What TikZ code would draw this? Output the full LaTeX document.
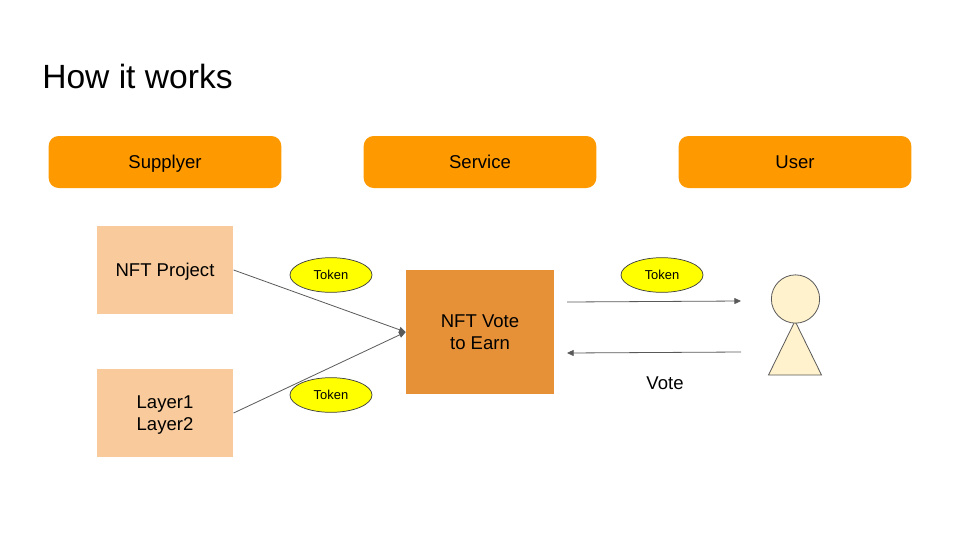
\documentclass[tikz,border=0pt]{standalone}
\usepackage{fontspec}
\setmainfont{Liberation Sans}
\usetikzlibrary{arrows.meta,shapes.geometric}
\definecolor{headorange}{HTML}{FF9900}
\definecolor{sourcefill}{HTML}{F9CB9C}
\definecolor{corefill}{HTML}{E69138}
\definecolor{personfill}{HTML}{FFF2CC}
\definecolor{wire}{HTML}{595959}
\definecolor{tokenfill}{HTML}{FFFF00}
\tikzset{
  header/.style={fill=headorange,rounded corners=7.5pt,minimum width=174.5pt,minimum height=39pt,inner sep=0pt,text height=9.9pt,text depth=0pt,font=\fontsize{13.9}{16}\selectfont},
  source/.style={fill=sourcefill,minimum width=102.5pt,minimum height=65.5pt,inner sep=0pt,align=center,text depth=0pt,font=\fontsize{13.9}{16.5}\selectfont},
  core/.style={fill=corefill,minimum width=111pt,minimum height=92.5pt,inner sep=0pt,align=center,font=\fontsize{13.9}{16.5}\selectfont},
  token/.style={ellipse,draw=black!75,line width=0.55pt,fill=tokenfill,minimum width=61.5pt,minimum height=26pt,inner sep=0pt,font=\fontsize{9.7}{11}\selectfont},
  flow/.style={draw=wire,line width=0.6pt,-{Triangle[length=5pt,width=4.5pt]}},
  figure/.style={draw=wire,line width=0.6pt,fill=personfill}
}
\begin{document}
\begin{tikzpicture}[x=0.75pt,y=-0.75pt]
  \useasboundingbox (0,0) rectangle (960,540);

  % Title
  \node[anchor=base west,inner sep=0pt,font=\fontsize{25.2}{30}\selectfont] (title) at (42,88) {How it works};

  % Column headers
  \node[header] (supplyer) at (165,162) {Supplyer};
  \node[header] (service) at (480,162) {Service};
  \node[header] (user) at (795,162) {User};

  % Sources and the central service
  \node[source,text height=9.9pt] (project) at (165,270) {NFT Project};
  \node[source] (layers) at (165,413) {Layer1\\Layer2};
  \node[core] (vote) at (480,332) {NFT Vote\\to Earn};

  % Connectors into the service
  \draw[flow] (layers.east) -- (vote.west);
  \draw[flow] (project.east) -- (vote.west);

  % Token badges
  \node[token] (tokena) at (331,275) {Token};
  \node[token] (tokenb) at (331,395) {Token};
  \node[token] (tokenc) at (662,275) {Token};

  % Person figure
  \coordinate (apex) at (795,321);
  \coordinate (footl) at (768.5,375);
  \coordinate (footr) at (821.5,375);
  \draw[figure,line join=miter] (apex) -- (footr) -- (footl) -- cycle;
  \node[figure,circle,minimum size=36.2pt,inner sep=0pt] (head) at (795.5,299) {};

  % Exchange between service and user
  \coordinate (outstart) at (567,302);
  \coordinate (outend) at (741,301);
  \coordinate (backstart) at (741,352);
  \coordinate (backend) at (567,353);
  \draw[flow] (outstart) -- (outend);
  \draw[flow] (backstart) -- (backend);
  \node[font=\fontsize{13.9}{16}\selectfont] (votelabel) at (665,383) {Vote};
\end{tikzpicture}
\end{document}
